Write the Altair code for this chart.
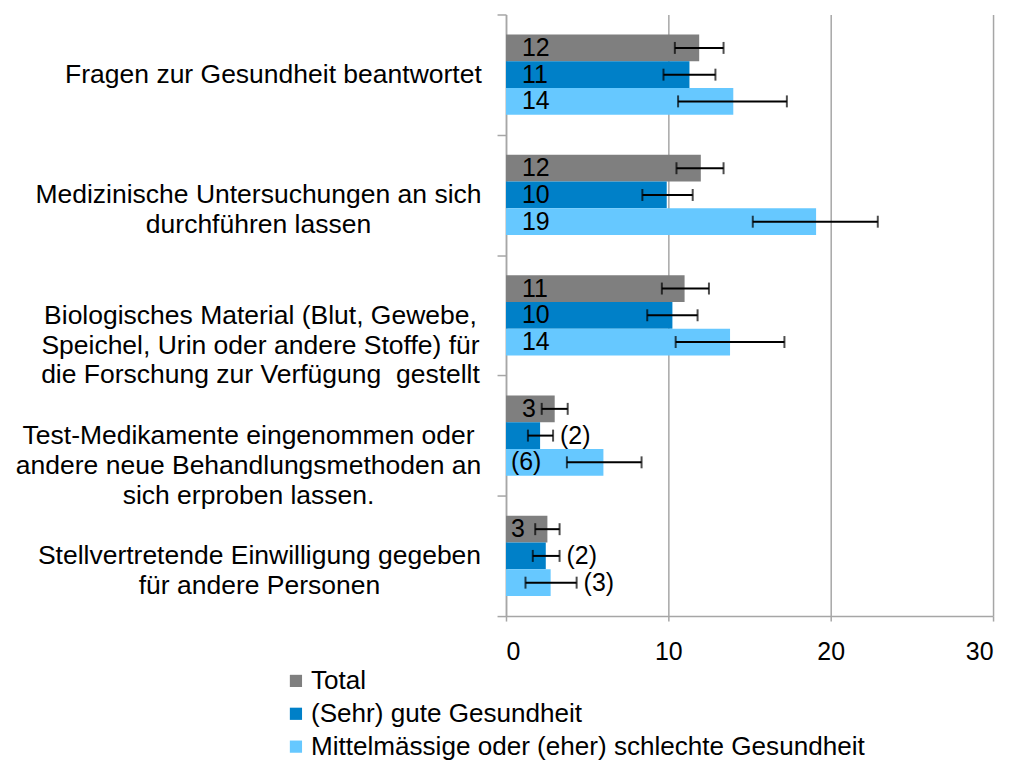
import altair as alt
import pandas as pd

# ---------------- data ----------------
categories = [
    "Fragen zur Gesundheit beantwortet",
    "Medizinische Untersuchungen an sich|durchführen lassen",
    "Biologisches Material (Blut, Gewebe,|Speichel, Urin oder andere Stoffe) für|die Forschung zur Verfügung \u00a0gestellt",
    "Test-Medikamente eingenommen oder |andere neue Behandlungsmethoden an|sich erproben lassen.",
    "Stellvertretende Einwilligung gegeben|für andere Personen",
]
series = ["Total", "(Sehr) gute Gesundheit", "Mittelmässige oder (eher) schlechte Gesundheit"]

total_values = [11.9, 12.0, 11.0, 3.0, 2.55]
good_values = [11.3, 9.9, 10.25, 2.1, 2.45]
poor_values = [14.0, 19.1, 13.8, 6.0, 2.75]

total_low = [10.4, 10.5, 9.6, 2.2, 1.8]
total_high = [13.4, 13.4, 12.5, 3.8, 3.3]
good_low = [9.7, 8.4, 8.7, 1.35, 1.65]
good_high = [12.9, 11.5, 11.8, 2.9, 3.3]
poor_low = [10.6, 15.2, 10.45, 3.75, 1.2]
poor_high = [17.3, 22.9, 17.15, 8.35, 4.35]

total_labels = ["12", "12", "11", "3", "3"]
good_labels = ["11", "10", "10", "(2)", "(2)"]
poor_labels = ["14", "19", "14", "(6)", "(3)"]

# ---------------- style ----------------
colors = ["#7f7f7f", "#0080c8", "#66c8ff"]
total_place = ["inside", "inside", "inside", "inside", "tight"]
good_place = ["inside", "inside", "inside", "outside", "outside"]
poor_place = ["inside", "inside", "inside", "tight", "outside"]
# half width (px) of the widest line of each category label, used to centre the lines
label_half_width = [209, 224, 222, 234, 223]
FONT = "Liberation Sans"
GRID = "#a6a6a6"

rows = []
for s, vals, lo, hi, labs, place in [
    (series[0], total_values, total_low, total_high, total_labels, total_place),
    (series[1], good_values, good_low, good_high, good_labels, good_place),
    (series[2], poor_values, poor_low, poor_high, poor_labels, poor_place),
]:
    for i, c in enumerate(categories):
        rows.append({
            "category": c, "series": s, "value": vals[i], "low": lo[i], "high": hi[i],
            "label": labs[i], "place": place[i],
            "anchor": hi[i] if place[i] == "outside" else 0.0,
        })
df = pd.DataFrame(rows)

pad_cond = [
    {"test": "datum.value === '" + c + "'", "value": 16 + w}
    for c, w in zip(categories, label_half_width)
]

y_enc = alt.Y(
    "category:N", sort=categories, title=None,
    scale=alt.Scale(paddingInner=0, paddingOuter=0),
    axis=alt.Axis(
        labelExpr="split(datum.label, '|')",
        labelAlign="center", labelBaseline="middle",
        labelPadding={"condition": pad_cond, "value": 230},
        labelFont=FONT, labelFontSize=26.6, labelColor="black",
        labelLineHeight=30, labelLimit=800,
        tickBand="extent", tickSize=9, tickColor=GRID, tickWidth=1.5,
        domainColor=GRID, domainWidth=1.5, grid=False,
    ),
)
yoff_enc = alt.YOffset("series:N", sort=series,
                       scale=alt.Scale(paddingInner=0, paddingOuter=0.75))

x_scale = alt.Scale(domain=[0, 30], nice=False)
x_axis = alt.Axis(
    values=[0, 10, 20, 30], grid=True, gridColor=GRID, gridWidth=1.5,
    domainColor=GRID, domainWidth=1.5, tickColor=GRID, tickWidth=1.5,
    tickSize=5, labelFont=FONT, labelFontSize=25, labelPadding=19,
    labelColor="black", title=None,
)

base = alt.Chart(df)

bars = base.mark_bar().encode(
    x=alt.X("value:Q", scale=x_scale, axis=x_axis),
    y=y_enc,
    yOffset=yoff_enc,
    color=alt.Color(
        "series:N", sort=series,
        scale=alt.Scale(domain=series, range=colors),
        legend=alt.Legend(
            orient="none", legendX=-224, legendY=656, direction="vertical",
            title=None, symbolType="square", symbolSize=150, symbolStrokeWidth=0,
            labelFont=FONT, labelFontSize=26.2, labelColor="black", labelOffset=2,
            rowPadding=6, labelLimit=900,
        ),
    ),
)

rule = base.mark_rule(color="black", strokeWidth=2).encode(
    x=alt.X("low:Q", scale=x_scale), x2="high:Q", y=y_enc, yOffset=yoff_enc
)
cap_lo = base.mark_tick(color="black", thickness=2, size=12, orient="vertical").encode(
    x=alt.X("low:Q", scale=x_scale), y=y_enc, yOffset=yoff_enc
)
cap_hi = base.mark_tick(color="black", thickness=2, size=12, orient="vertical").encode(
    x=alt.X("high:Q", scale=x_scale), y=y_enc, yOffset=yoff_enc
)

def text_layer(place, dx):
    return base.transform_filter(alt.datum.place == place).mark_text(
        align="left", baseline="middle", font=FONT, fontSize=25, color="black", dx=dx
    ).encode(x=alt.X("anchor:Q", scale=x_scale), y=y_enc, yOffset=yoff_enc, text="label:N")

chart = alt.layer(
    bars, rule, cap_lo, cap_hi,
    text_layer("inside", 16), text_layer("tight", 5), text_layer("outside", 7),
).properties(
    width=489, height=604,
    autosize=alt.AutoSizeParams(type="none"),
    padding={"left": 500, "top": 5, "right": 12, "bottom": 145},
).configure_view(stroke=None)

chart.save("out.html", embed_options={"renderer": "svg", "actions": False})
